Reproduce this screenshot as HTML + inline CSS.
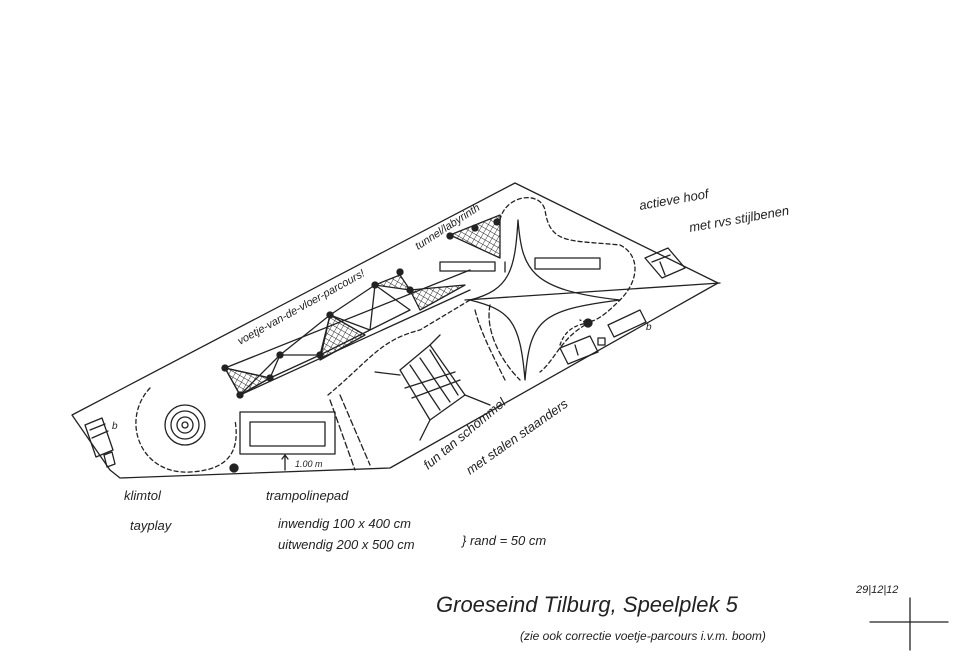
<!DOCTYPE html>
<html><head><meta charset="utf-8"><style>
html,body{margin:0;padding:0;background:#fff;}
svg{display:block;}
text{font-family:"Liberation Sans",sans-serif;font-style:italic;fill:#222;}
</style></head><body>
<svg width="967" height="664" viewBox="0 0 967 664" xmlns="http://www.w3.org/2000/svg">
<defs>
<pattern id="h" width="5" height="5" patternUnits="userSpaceOnUse" patternTransform="rotate(30)">
<path d="M0 0H5M0 0V5" stroke="#222" stroke-width="0.9"/>
</pattern>
</defs>
<g fill="none" stroke="#222" stroke-width="1.3" stroke-linecap="round" stroke-linejoin="round">
<!-- outer boundary -->
<path d="M72 415 L515 183 L718 283 L390 468 L120 478 L110 470 Z"/>
<!-- climbing circle dashed -->
<path d="M150 388 C120 420 140 475 190 472 C230 470 240 450 235 420" stroke-dasharray="4 3"/>
<circle cx="185" cy="425" r="20"/><circle cx="185" cy="425" r="14"/><circle cx="185" cy="425" r="8"/><circle cx="185" cy="425" r="3"/>
<!-- left bench -->
<path d="M85 425 L102 418 L113 450 L96 457 Z M90 430 L105 424 M92 438 L108 431"/>
<path d="M104 455 L112 452 L115 464 L107 467 Z"/>
<!-- trampoline -->
<rect x="240" y="412" width="95" height="42"/>
<rect x="250" y="422" width="75" height="24"/>
<path d="M285 455 V470 M282 459 L285 455 L288 459"/>
<circle cx="234" cy="468" r="4" fill="#222"/>
<!-- dashed divider lines -->
<path d="M330 400 L355 470 M340 395 L370 465" stroke-dasharray="6 3"/>
<path d="M328 395 C370 360 380 340 420 330 L470 300" stroke-dasharray="4 3"/>
<!-- parcours strip -->
<path d="M225 368 L470 270 M240 395 L470 290"/>
<path d="M225 368 L240 395 L270 378 L225 368 M270 378 L280 355 L240 395 M280 355 L320 355 L270 378 M320 355 L330 315 L280 355 M330 315 L370 330 L320 355 M370 330 L375 285 L330 315 M375 285 L410 310 L370 330"/>
<path d="M225 368 L240 395 L270 378 Z" fill="url(#h)"/>
<path d="M330 315 L320 360 L365 335 Z" fill="url(#h)"/>
<path d="M375 285 L410 290 L400 275 Z" fill="url(#h)"/>
<path d="M410 290 L465 285 L420 310 Z" fill="url(#h)"/>
<path d="M450 235 L500 215 L500 258 Z" fill="url(#h)"/>
<g fill="#222"><circle cx="225" cy="368" r="3"/><circle cx="240" cy="395" r="3"/><circle cx="270" cy="378" r="3"/><circle cx="280" cy="355" r="3"/><circle cx="320" cy="355" r="3"/><circle cx="330" cy="315" r="3"/><circle cx="375" cy="285" r="3"/><circle cx="410" cy="290" r="3"/><circle cx="400" cy="272" r="3"/><circle cx="450" cy="236" r="3"/><circle cx="475" cy="228" r="3"/><circle cx="497" cy="222" r="3"/></g>
<!-- star swing -->
<path d="M518 220 C522 270 530 290 620 300 C540 310 530 320 525 380 C520 320 510 310 470 300 C510 290 515 270 518 220"/>
<path d="M465 300 L720 283"/>
<rect x="440" y="262" width="55" height="9"/>
<rect x="535" y="258" width="65" height="11"/>
<path d="M505 262 L505 272"/>
<!-- dashed loop -->
<path d="M500 220 C505 195 540 190 545 210 C550 245 570 240 620 245 C640 255 640 280 620 300 C600 320 590 325 580 320 M585 325 C560 340 555 360 540 372" stroke-dasharray="4 3"/>
<path d="M490 305 C485 330 500 360 520 380 M475 310 C480 330 490 350 505 380" stroke-dasharray="5 3"/>
<!-- nest swing -->
<path d="M400 370 L430 345 L465 395 L430 420 Z"/>
<path d="M410 365 L440 410 M420 358 L450 402 M430 350 L458 395 M405 388 L455 372 M412 398 L460 380"/>
<path d="M375 372 L400 375 M430 345 L440 335 M465 395 L490 405 M430 420 L420 440"/>
<!-- right benches -->
<path d="M645 258 L668 248 L685 268 L662 278 Z M652 262 L670 255 M660 262 L665 275"/>
<path d="M560 348 L590 336 L598 352 L568 364 Z M575 345 L578 355"/>
<path d="M608 325 L640 310 L646 322 L614 337 Z"/>
<rect x="598" y="338" width="7" height="7"/>
<circle cx="588" cy="323" r="4" fill="#222"/>
<path d="M560 345 C565 330 575 325 588 323" stroke-dasharray="3 3"/>
<!-- date mark -->
<path d="M910 598 V650 M870 622 H948"/>
</g>
<g font-size="13">
<text x="240" y="345" font-size="11" transform="rotate(-29 240 345)">voetje-van-de-vloer-parcours!</text>
<text x="418" y="250" font-size="11" transform="rotate(-33 418 250)">tunnel/labyrinth</text>
<text x="112" y="270" font-size="8"></text>
<text x="112" y="429" font-size="10">b</text>
<text x="646" y="330" font-size="10">b</text>
<text x="295" y="467" font-size="9">1.00 m</text>
<text x="640" y="210" transform="rotate(-10 640 210)">actieve hoof</text>
<text x="690" y="232" transform="rotate(-10 690 232)">met rvs stijlbenen</text>
<text x="428" y="470" transform="rotate(-40 428 470)">fun tan schommel</text>
<text x="470" y="475" transform="rotate(-35 470 475)">met stalen staanders</text>
<text x="124" y="500">klimtol</text>
<text x="130" y="530">tayplay</text>
<text x="266" y="500">trampolinepad</text>
<text x="278" y="528">inwendig 100 x 400 cm</text>
<text x="278" y="549">uitwendig 200 x 500 cm</text>
<text x="462" y="545">} rand = 50 cm</text>
<text x="436" y="612" font-size="22">Groeseind Tilburg, Speelplek 5</text>
<text x="520" y="640" font-size="12">(zie ook correctie voetje-parcours i.v.m. boom)</text>
<text x="856" y="593" font-size="11">29|12|12</text>
</g>
</svg>
</body></html>
